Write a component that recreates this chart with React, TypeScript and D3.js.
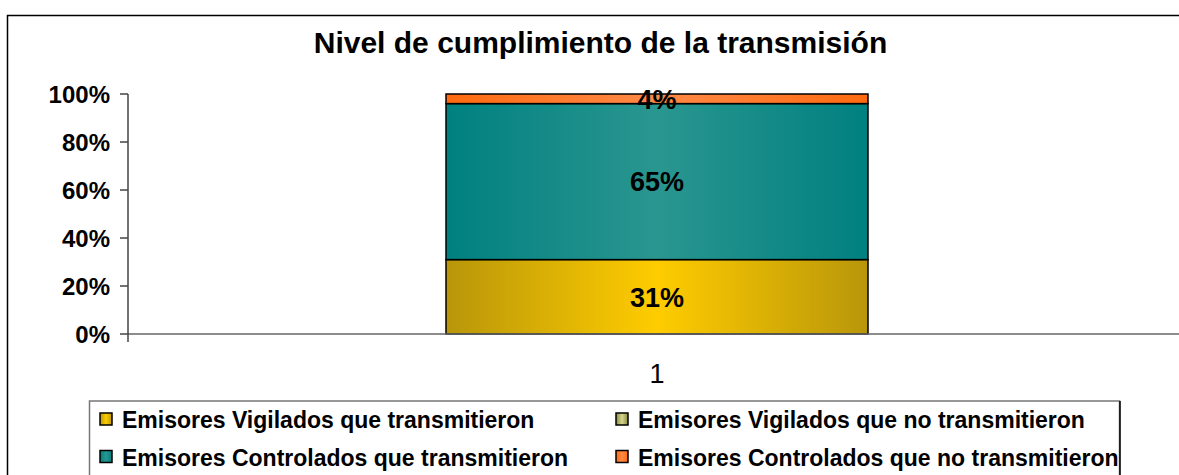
import React from "react";
import * as d3 from "d3";

const categories = ["1"];
const seriesNames = [
  "Emisores Vigilados que transmitieron",
  "Emisores Vigilados que no transmitieron",
  "Emisores Controlados que transmitieron",
  "Emisores Controlados que no transmitieron",
];
const seriesValues = [0.31, 0, 0.65, 0.04];
const seriesLabels = ["31%", "", "65%", "4%"];
const yTicks = [0, 0.2, 0.4, 0.6, 0.8, 1];
const title = "Nivel de cumplimiento de la transmisión";

const gradients = [
  { id: "g0", edge: "#B8960A", mid: "#FFCC00" },
  { id: "g1", edge: "#8A8A40", mid: "#D6D68E" },
  { id: "g2", edge: "#008080", mid: "#2A9690" },
  { id: "g3", edge: "#FF6A10", mid: "#FF8A48" },
];

const FONT = "'Liberation Sans', Arial, Helvetica, sans-serif";

export default function App() {
  const W = 1179;
  const H = 475;
  const plotLeft = 128;
  const plotRight = 1186;
  const plotTop = 94;
  const plotBottom = 334;

  const y = d3.scaleLinear().domain([0, 1]).range([plotBottom, plotTop]);
  const x = d3
    .scaleBand<string>()
    .domain(categories)
    .range([plotLeft, plotRight])
    .paddingInner(0)
    .paddingOuter(0.7536);

  const stackData = categories.map((c) => {
    const row: Record<string, number | string> = { cat: c };
    seriesNames.forEach((s, i) => (row[s] = seriesValues[i]));
    return row;
  });
  const stack = d3.stack<any>().keys(seriesNames)(stackData as any);

  const legendCols = [100, 616];
  const legendRows = [428, 465.5];

  return (
    <svg
      width={W}
      height={H}
      style={{ position: "absolute", left: 0, top: 0, background: "#fff" }}
      fontFamily={FONT}
    >
      <defs>
        {gradients.map((g) => (
          <linearGradient key={g.id} id={g.id} x1="0" x2="1" y1="0" y2="0">
            <stop offset="0%" stopColor={g.edge} />
            <stop offset="50%" stopColor={g.mid} />
            <stop offset="100%" stopColor={g.edge} />
          </linearGradient>
        ))}
      </defs>
      <rect x={0} y={0} width={W} height={H} fill="#fff" />
      <rect x={7.5} y={15.5} width={1250} height={520} fill="none" stroke="#000" strokeWidth={1.5} />

      <text x={600.5} y={53} textAnchor="middle" fontSize={30} fontWeight="bold" fill="#000">
        {title}
      </text>

      {/* bars */}
      {stack.map((layer, i) =>
        layer.map((d, j) => {
          const h = y(d[0]) - y(d[1]);
          if (h <= 0) return null;
          return (
            <rect
              key={`${i}-${j}`}
              x={x(categories[j])}
              y={y(d[1])}
              width={x.bandwidth()}
              height={h}
              fill={`url(#${gradients[i].id})`}
              stroke="#000"
              strokeWidth={1.5}
            />
          );
        })
      )}

      {/* axes */}
      <line x1={plotLeft} x2={plotRight} y1={plotBottom} y2={plotBottom} stroke="#666" strokeWidth={1.5} />
      <line x1={plotLeft} x2={plotLeft} y1={plotTop} y2={plotBottom + 8} stroke="#444" strokeWidth={1.5} />
      {yTicks.map((t) => (
        <g key={t}>
          <line x1={plotLeft - 8} x2={plotLeft} y1={y(t)} y2={y(t)} stroke="#444" strokeWidth={1.5} />
          <text x={110} y={y(t) + 8.6} textAnchor="end" fontSize={24} fontWeight="bold" fill="#000">
            {d3.format(".0%")(t)}
          </text>
        </g>
      ))}
      {categories.map((c) => (
        <text
          key={c}
          x={(x(c) as number) + x.bandwidth() / 2}
          y={383}
          textAnchor="middle"
          fontSize={27}
          fill="#000"
        >
          {c}
        </text>
      ))}

      {/* data labels */}
      {stack.map((layer, i) =>
        layer.map((d, j) => {
          if (!seriesLabels[i]) return null;
          const mid = (y(d[0]) + y(d[1])) / 2;
          return (
            <text
              key={`l${i}-${j}`}
              x={(x(categories[j]) as number) + x.bandwidth() / 2}
              y={mid + 9.7}
              textAnchor="middle"
              fontSize={27}
              fontWeight="bold"
              fill="#000"
            >
              {seriesLabels[i]}
            </text>
          );
        })
      )}

      {/* legend */}
      <rect x={89.5} y={401} width={1030} height={120} fill="#fff" stroke="#777" strokeWidth={1.5} />
      <line x1={1120} x2={1120} y1={401} y2={480} stroke="#000" strokeWidth={1.5} />
      {seriesNames.map((s, i) => {
        const col = i % 2;
        const row = Math.floor(i / 2);
        const lx = legendCols[col];
        const ly = legendRows[row];
        return (
          <g key={s}>
            <rect
              x={lx}
              y={ly - 15}
              width={12}
              height={12}
              fill={`url(#${gradients[i].id})`}
              stroke="#000"
              strokeWidth={1.5}
            />
            <text x={lx + 22} y={ly} fontSize={23} fontWeight="bold" fill="#000">
              {s}
            </text>
          </g>
        );
      })}
    </svg>
  );
}
